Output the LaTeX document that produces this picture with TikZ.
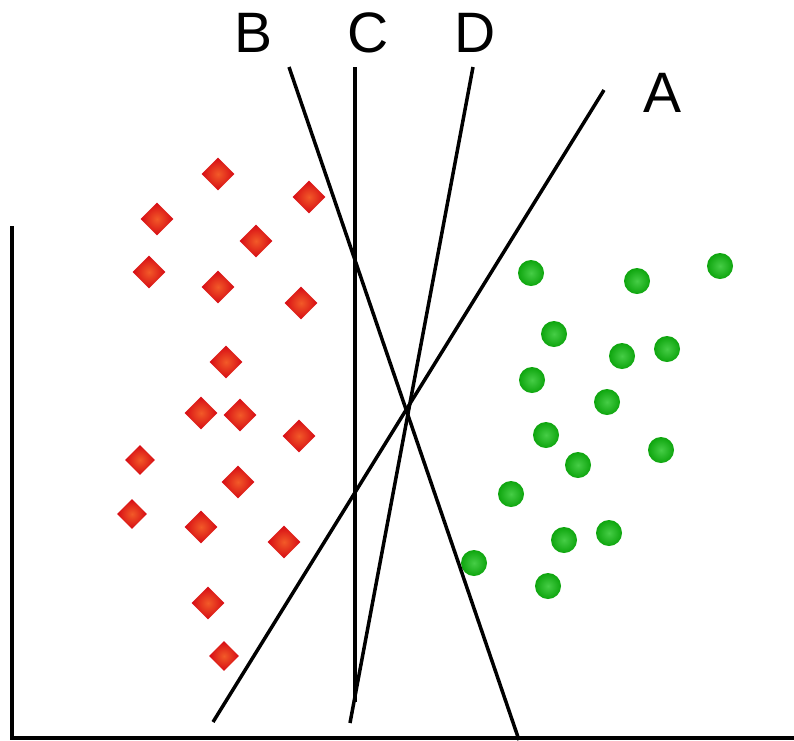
\documentclass[tikz,border=0pt]{standalone}
\usepackage{fontspec}
\setmainfont{Liberation Sans}
\usetikzlibrary{shapes.geometric}
\definecolor{redout}{RGB}{214,10,20}
\definecolor{redin}{RGB}{242,90,40}
\definecolor{grnout}{RGB}{14,165,14}
\definecolor{grnin}{RGB}{70,205,70}
\tikzset{
  redpt/.style={diamond, inner sep=0pt, minimum width=33pt, minimum height=33pt,
    shading=radial, inner color=redin, outer color=redout},
  redsm/.style={redpt, minimum width=30pt, minimum height=30pt},
  grnpt/.style={circle, inner sep=0pt, minimum size=26pt,
    shading=radial, inner color=grnin, outer color=grnout},
  sepline/.style={line width=3.5pt, black},
  axisline/.style={line width=3.5pt, black},
  lbl/.style={font=\fontsize{57}{60}\selectfont, inner sep=0pt}
}
\begin{document}
\begin{tikzpicture}[x=1pt, y=-1pt]
\useasboundingbox (0,0) rectangle (794,740);
% axes
\coordinate (ytop) at (12,226);
\coordinate (orig) at (12,738);
\coordinate (xend) at (794,738);
\draw[axisline] (ytop) -- (orig) -- (xend);
% class 1: red diamonds
\foreach \x/\y [count=\i] in {218/174,157/219,309/197,256/241,149/272,218/287,301/303,
  226/362,201/413,240/415,299/436,238/482,201/527,284/542,208/603}
  \node[redpt] (r\i) at (\x,\y) {};
\foreach \x/\y [count=\i] in {140/460,132/514,224/656}
  \node[redsm] (s\i) at (\x,\y) {};
% class 2: green dots
\foreach \x/\y [count=\i] in {531/273,637/281,720/266,554/334,622/356,667/349,532/380,
  607/402,546/435,578/465,661/450,511/494,564/540,609/533,474/563,548/586}
  \node[grnpt] (g\i) at (\x,\y) {};
% separating lines
\coordinate (Atop) at (604,90);  \coordinate (Abot) at (213,722);
\coordinate (Btop) at (289,67);  \coordinate (Bbot) at (519,740);
\coordinate (Ctop) at (355,67);  \coordinate (Cbot) at (355,702);
\coordinate (Dtop) at (473,67);  \coordinate (Dbot) at (350,723);
\draw[sepline] (Atop) -- (Abot);
\draw[sepline] (Btop) -- (Bbot);
\draw[sepline] (Ctop) -- (Cbot);
\draw[sepline] (Dtop) -- (Dbot);
% labels
\node[lbl] (la) at (662,93) {A};
\node[lbl] (lb) at (254,33) {B};
\node[lbl] (lc) at (368,33) {C};
\node[lbl] (ld) at (475,33) {D};
\end{tikzpicture}
\end{document}
